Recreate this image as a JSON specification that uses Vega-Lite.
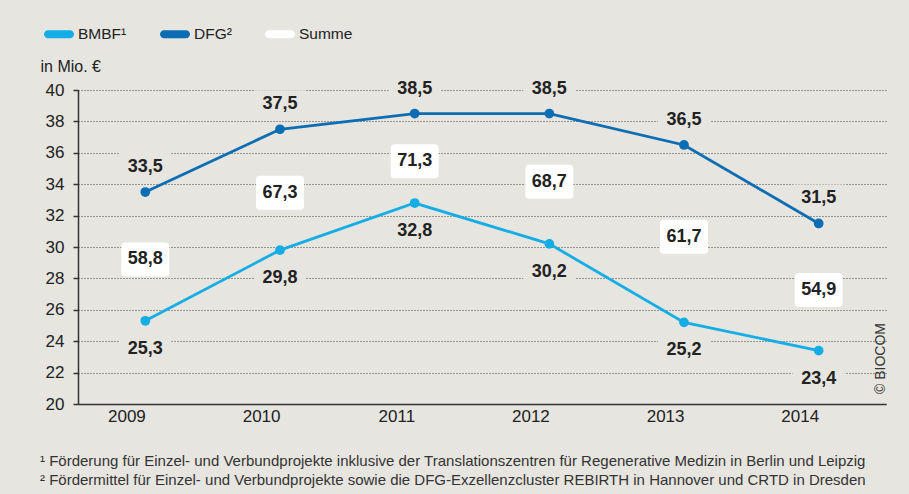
{
  "$schema": "https://vega.github.io/schema/vega-lite/v6.json",
  "width": 808,
  "height": 314,
  "autosize": "none",
  "padding": {"left": 78, "top": 90, "right": 23, "bottom": 90},
  "background": "#e6e5df",
  "config": {
    "view": {"stroke": null},
    "font": "Liberation Sans",
    "locale": {"number": {"decimal": ",", "thousands": ".", "grouping": [3], "currency": ["", " €"]}}
  },
  "title": {
    "text": [
      "¹ Förderung für Einzel- und Verbundprojekte inklusive der Translationszentren für Regenerative Medizin in Berlin und Leipzig",
      "² Fördermittel für Einzel- und Verbundprojekte sowie die DFG-Exzellenzcluster REBIRTH in Hannover und CRTD in Dresden"
    ],
    "orient": "bottom",
    "anchor": "start",
    "frame": "group",
    "dx": -38,
    "offset": 30,
    "fontSize": 15,
    "fontWeight": "normal",
    "color": "#333333",
    "lineHeight": 19
  },
  "data": {
    "values": [
      {"jahr": "2009", "reihe": "BMBF", "wert": 25.3},
      {"jahr": "2010", "reihe": "BMBF", "wert": 29.8},
      {"jahr": "2011", "reihe": "BMBF", "wert": 32.8},
      {"jahr": "2012", "reihe": "BMBF", "wert": 30.2},
      {"jahr": "2013", "reihe": "BMBF", "wert": 25.2},
      {"jahr": "2014", "reihe": "BMBF", "wert": 23.4},
      {"jahr": "2009", "reihe": "DFG", "wert": 33.5},
      {"jahr": "2010", "reihe": "DFG", "wert": 37.5},
      {"jahr": "2011", "reihe": "DFG", "wert": 38.5},
      {"jahr": "2012", "reihe": "DFG", "wert": 38.5},
      {"jahr": "2013", "reihe": "DFG", "wert": 36.5},
      {"jahr": "2014", "reihe": "DFG", "wert": 31.5},
      {"jahr": "2009", "reihe": "Summe", "wert": 58.8},
      {"jahr": "2010", "reihe": "Summe", "wert": 67.3},
      {"jahr": "2011", "reihe": "Summe", "wert": 71.3},
      {"jahr": "2012", "reihe": "Summe", "wert": 68.7},
      {"jahr": "2013", "reihe": "Summe", "wert": 61.7},
      {"jahr": "2014", "reihe": "Summe", "wert": 54.9}
    ]
  },
  "resolve": {"axis": {"y": "independent"}},
  "layer": [
    {
      "transform": [{"filter": "datum.reihe === 'DFG'"}],
      "mark": {"type": "point", "filled": true, "shape": "M-1,-0.54L1,-0.54L1,0.54L-1,0.54Z", "size": 2704, "color": "#e6e5df", "opacity": 1, "strokeWidth": 0, "yOffset": -25},
      "encoding": {
        "x": {"field": "jahr", "type": "ordinal", "scale": {"type": "point", "padding": 0.5}},
        "y": {"field": "wert", "type": "quantitative", "scale": {"domain": [20, 40], "nice": false, "zero": false}, "axis": null}
      }
    },
    {
      "transform": [{"filter": "datum.reihe === 'BMBF'"}],
      "mark": {"type": "point", "filled": true, "shape": "M-1,-0.54L1,-0.54L1,0.54L-1,0.54Z", "size": 2704, "color": "#e6e5df", "opacity": 1, "strokeWidth": 0, "yOffset": 28},
      "encoding": {
        "x": {"field": "jahr", "type": "ordinal"},
        "y": {"field": "wert", "type": "quantitative", "axis": null}
      }
    },
    {
      "transform": [{"filter": "datum.reihe !== 'Summe'"}],
      "mark": {"type": "line", "strokeWidth": 2.8},
      "encoding": {
        "x": {
          "field": "jahr", "type": "ordinal",
          "axis": {"title": null, "labelAngle": 0, "ticks": false, "tickSize": 0, "labelPadding": 12, "labelFontSize": 17, "labelColor": "#222222", "domainColor": "#333333", "domainWidth": 1.5}
        },
        "y": {
          "field": "wert", "type": "quantitative",
          "axis": {
            "title": "in Mio. €", "titleAngle": 0, "titleAlign": "left", "titleBaseline": "middle", "titleX": -38, "titleY": -24,
            "titleFontSize": 16, "titleFontWeight": "normal", "titleColor": "#222222",
            "values": [20, 22, 24, 26, 28, 30, 32, 34, 36, 38, 40],
            "labelFontSize": 17, "labelColor": "#222222", "labelPadding": 9,
            "tickSize": 5, "tickColor": "#333333", "tickWidth": 1.5,
            "domainColor": "#333333", "domainWidth": 1.5,
            "grid": true, "gridDash": [1, 2], "gridColor": "#444444", "gridWidth": 1
          }
        },
        "color": {
          "field": "reihe", "type": "nominal",
          "scale": {"domain": ["BMBF", "DFG", "Summe"], "range": ["#14ade6", "#0b6db3", "#ffffff"]},
          "legend": {
            "title": null, "orient": "none", "legendX": -34, "legendY": -71, "direction": "horizontal",
            "padding": 0, "symbolType": "M-0.733,-0.267L0.733,-0.267A0.267,0.267 0 0 1 0.733,0.267L-0.733,0.267A0.267,0.267 0 0 1 -0.733,-0.267Z",
            "symbolSize": 900, "symbolStrokeWidth": 0, "symbolOpacity": 1, "labelFontSize": 15.5, "labelColor": "#222222",
            "labelOffset": 4, "columnPadding": 33, "labelExpr": "datum.label === 'BMBF' ? 'BMBF¹' : datum.label === 'DFG' ? 'DFG²' : datum.label",
            "encode": {"symbols": {"update": {"fill": {"scale": "color", "field": "value"}, "stroke": {"value": "transparent"}, "opacity": {"value": 1}}}}
          }
        }
      }
    },
    {
      "transform": [{"filter": "datum.reihe !== 'Summe'"}],
      "mark": {"type": "point", "filled": true, "size": 95, "opacity": 1},
      "encoding": {
        "x": {"field": "jahr", "type": "ordinal"},
        "y": {"field": "wert", "type": "quantitative", "axis": null},
        "color": {"field": "reihe", "type": "nominal"}
      }
    },
    {
      "transform": [{"filter": "datum.reihe === 'DFG'"}],
      "mark": {"type": "text", "fontSize": 18, "fontWeight": "bold", "color": "#222222", "baseline": "middle", "dy": -25},
      "encoding": {
        "x": {"field": "jahr", "type": "ordinal"},
        "y": {"field": "wert", "type": "quantitative", "axis": null},
        "text": {"field": "wert", "type": "quantitative", "format": ".1f"}
      }
    },
    {
      "transform": [{"filter": "datum.reihe === 'BMBF'"}],
      "mark": {"type": "text", "fontSize": 18, "fontWeight": "bold", "color": "#222222", "baseline": "middle", "dy": 28},
      "encoding": {
        "x": {"field": "jahr", "type": "ordinal"},
        "y": {"field": "wert", "type": "quantitative", "axis": null},
        "text": {"field": "wert", "type": "quantitative", "format": ".1f"}
      }
    },
    {
      "transform": [{"filter": "datum.reihe === 'Summe'"}, {"calculate": "datum.wert / 2", "as": "pos"}],
      "mark": {"type": "point", "filled": true, "shape": "M-0.833,-0.708L0.833,-0.708Q1,-0.708 1,-0.542L1,0.542Q1,0.708 0.833,0.708L-0.833,0.708Q-1,0.708 -1,0.542L-1,-0.542Q-1,-0.708 -0.833,-0.708Z", "size": 2304, "color": "#ffffff", "opacity": 1, "strokeWidth": 0, "yOffset": 3},
      "encoding": {
        "x": {"field": "jahr", "type": "ordinal"},
        "y": {
          "field": "pos", "type": "quantitative",
          "axis": {"orient": "right", "labels": false, "ticks": false, "domain": false, "grid": false, "title": "© BIOCOM", "titleAngle": 270, "titleX": -6, "titleY": 268, "titleAlign": "center", "titleBaseline": "middle", "titleFontSize": 14, "titleFontWeight": "normal", "titleColor": "#333333"}
        }
      }
    },
    {
      "transform": [{"filter": "datum.reihe === 'Summe'"}, {"calculate": "datum.wert / 2", "as": "pos"}],
      "mark": {"type": "text", "fontSize": 18, "fontWeight": "bold", "color": "#222222", "baseline": "middle", "dy": 3},
      "encoding": {
        "x": {"field": "jahr", "type": "ordinal"},
        "y": {"field": "pos", "type": "quantitative", "axis": null},
        "text": {"field": "wert", "type": "quantitative", "format": ".1f"}
      }
    }
  ]
}
